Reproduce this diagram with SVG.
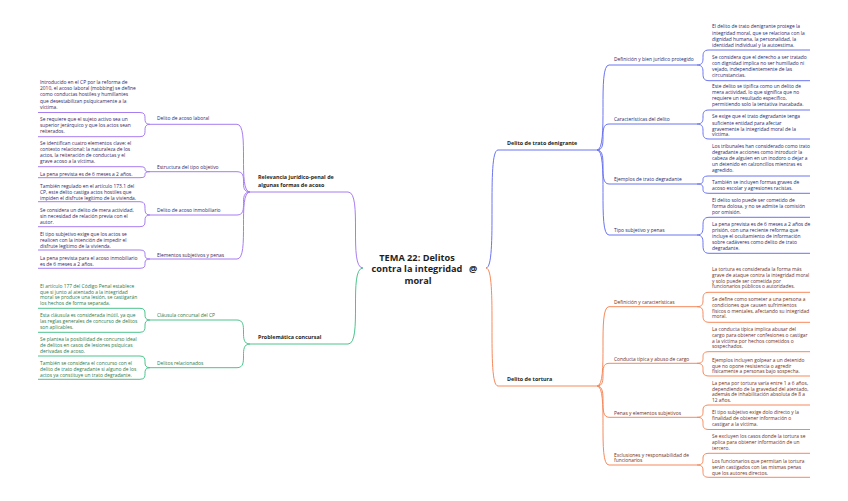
<svg xmlns="http://www.w3.org/2000/svg" width="848" height="501" viewBox="0 0 848 501">
<style>
text{font-family:"Open Sans","Noto Sans",sans-serif}
.lf{font-size:4.9px}
.sb{font-size:4.9px}
.mn{font-size:5.4px;font-weight:700;fill:#1f1f1f}
.tt{font-size:9.2px;font-weight:700;fill:#1f1f1f}
.tp{fill:#35275e}.tg{fill:#2c7a4b}.tb{fill:#262a6e}.to{fill:#6e2f1c}
.c{fill:none;stroke-width:1}
.cp{stroke:#a77df2}.cg{stroke:#4cc48c}.cb{stroke:#6b74f2}.co{stroke:#f7895c}
</style>
<rect width="848" height="501" fill="#ffffff"/>
<g id="connectors">
<g class="c cp">
<path d="M250,192 H348 C363,192 348,268 363,268"/>
<path d="M150,124.3 H237 C250,124.3 237,192 250,192"/>
<path d="M150,171.7 H237 C250,171.7 237,192 250,192"/>
<path d="M150,215 H237 C250,215 237,192 250,192"/>
<path d="M150,259 H237 C250,259 237,192 250,192"/>
<path d="M38,112.5 H140 C150,112.5 140,124.3 150,124.3"/>
<path d="M38,136.7 H140 C150,136.7 140,124.3 150,124.3"/>
<path d="M38,166.7 H140 C150,166.7 140,171.7 150,171.7"/>
<path d="M38,177.7 H140 C150,177.7 140,171.7 150,171.7"/>
<path d="M38,201.7 H140 C150,201.7 140,215 150,215"/>
<path d="M38,226.7 H140 C150,226.7 140,215 150,215"/>
<path d="M38,250 H140 C150,250 140,259 150,259"/>
<path d="M38,268.3 H140 C150,268.3 140,259 150,259"/>
</g>
<g class="c cg">
<path d="M250,344 H348 C363,344 348,268 363,268"/>
<path d="M150,320 H237 C250,320 237,344 250,344"/>
<path d="M150,367.7 H237 C250,367.7 237,344 250,344"/>
<path d="M38,308.3 H140 C150,308.3 140,320 150,320"/>
<path d="M38,332.3 H140 C150,332.3 140,320 150,320"/>
<path d="M38,356 H140 C150,356 140,367.7 150,367.7"/>
<path d="M38,379.3 H140 C150,379.3 140,367.7 150,367.7"/>
</g>
<g class="c cb">
<path d="M486,268 C498,268 486,150 498,150 H597"/>
<path d="M597,150 C609,150 597,65 609,65 H697"/>
<path d="M597,150 C609,150 597,124 609,124 H697"/>
<path d="M597,150 C609,150 597,184 609,184 H697"/>
<path d="M597,150 C609,150 597,235 609,235 H697"/>
<path d="M697,65 C709,65 697,50 709,50 H810"/>
<path d="M697,65 C709,65 697,80.7 709,80.7 H810"/>
<path d="M697,124 C709,124 697,110 709,110 H810"/>
<path d="M697,124 C709,124 697,139 709,139 H810"/>
<path d="M697,184 C709,184 697,176 709,176 H810"/>
<path d="M697,184 C709,184 697,193.3 709,193.3 H810"/>
<path d="M697,235 C709,235 697,217.3 709,217.3 H810"/>
<path d="M697,235 C709,235 697,253.3 709,253.3 H810"/>
</g>
<g class="c co">
<path d="M486,268 C498,268 486,386 498,386 H597"/>
<path d="M597,386 C609,386 597,306.7 609,306.7 H697"/>
<path d="M597,386 C609,386 597,363.3 609,363.3 H697"/>
<path d="M597,386 C609,386 597,417.3 609,417.3 H697"/>
<path d="M597,386 C609,386 597,465 609,465 H697"/>
<path d="M697,306.7 C709,306.7 697,292.3 709,292.3 H810"/>
<path d="M697,306.7 C709,306.7 697,322.3 709,322.3 H810"/>
<path d="M697,363.3 C709,363.3 697,351.7 709,351.7 H810"/>
<path d="M697,363.3 C709,363.3 697,376 709,376 H810"/>
<path d="M697,417.3 C709,417.3 697,405 709,405 H810"/>
<path d="M697,417.3 C709,417.3 697,429.5 709,429.5 H810"/>
<path d="M697,465 C709,465 697,453.3 709,453.3 H810"/>
<path d="M697,465 C709,465 697,477.3 709,477.3 H810"/>
</g>
</g>

<g id="center">
<text class="tt" text-anchor="middle"><tspan x="417" y="260.5">TEMA 22: Delitos</tspan><tspan x="417" y="272">contra la integridad</tspan><tspan x="418" y="283.5">moral</tspan></text>
<text class="tt" x="473" y="272" text-anchor="middle">@</text>
</g>

<g id="relevancia"><text class="mn" x="258"><tspan x="258" y="179.3">Relevancia jurídico-penal de</tspan><tspan x="258" y="187">algunas formas de acoso</tspan></text></g>
<g id="acoso-laboral"><text class="sb tp" x="157" y="120">Delito de acoso laboral</text></g>
<g id="leaf-l1"><text class="lf tp"><tspan x="40" y="84.2">Introducido en el CP por la reforma de</tspan><tspan x="40" y="90.3">2010, el acoso laboral (mobbing) se define</tspan><tspan x="40" y="96.4">como conductas hostiles y humillantes</tspan><tspan x="40" y="102.5">que desestabilizan psíquicamente a la</tspan><tspan x="40" y="108.6">víctima.</tspan></text></g>
<g id="leaf-l2"><text class="lf tp"><tspan x="40" y="121">Se requiere que el sujeto activo sea un</tspan><tspan x="40" y="127.1">superior jerárquico y que los actos sean</tspan><tspan x="40" y="133.2">reiterados.</tspan></text></g>
<g id="estructura"><text class="sb tp" x="157" y="169">Estructura del tipo objetivo</text></g>
<g id="leaf-l3"><text class="lf tp"><tspan x="40" y="145">Se identifican cuatro elementos clave: el</tspan><tspan x="40" y="151">contexto relacional; la naturaleza de los</tspan><tspan x="40" y="157">actos, la reiteración de conductas y el</tspan><tspan x="40" y="163">grave acoso a la víctima.</tspan></text></g>
<g id="leaf-l4"><text class="lf tp" x="40" y="175.8">La pena prevista es de 6 meses a 2 años.</text></g>
<g id="acoso-inmobiliario"><text class="sb tp" x="157" y="211.8">Delito de acoso inmobiliario</text></g>
<g id="leaf-l5"><text class="lf tp"><tspan x="40" y="187.8">También regulado en el artículo 173.1 del</tspan><tspan x="40" y="193.8">CP, este delito castiga actos hostiles que</tspan><tspan x="40" y="199.8">impiden el disfrute legítimo de la vivienda.</tspan></text></g>
<g id="leaf-l6"><text class="lf tp"><tspan x="40" y="211.8">Se considera un delito de mera actividad,</tspan><tspan x="40" y="217.8">sin necesidad de relación previa con el</tspan><tspan x="40" y="224">autor.</tspan></text></g>
<g id="elementos"><text class="sb tp" x="157" y="256.8">Elementos subjetivos y penas</text></g>
<g id="leaf-l7"><text class="lf tp"><tspan x="40" y="235.8">El tipo subjetivo exige que los actos se</tspan><tspan x="40" y="241.8">realicen con la intención de impedir el</tspan><tspan x="40" y="247.6">disfrute legítimo de la vivienda.</tspan></text></g>
<g id="leaf-l8"><text class="lf tp"><tspan x="40" y="260">La pena prevista para el acoso inmobiliario</tspan><tspan x="40" y="265.8">es de 6 meses a 2 años.</tspan></text></g>

<g id="problematica"><text class="mn" x="258" y="339.2">Problemática concursal</text></g>
<g id="clausula"><text class="sb tg" x="157" y="316.8">Cláusula concursal del CP</text></g>
<g id="leaf-g1"><text class="lf tg"><tspan x="40" y="287.8">El artículo 177 del Código Penal establece</tspan><tspan x="40" y="293.5">que si junto al atentado a la integridad</tspan><tspan x="40" y="299.2">moral se produce una lesión, se castigarán</tspan><tspan x="40" y="305">los hechos de forma separada.</tspan></text></g>
<g id="leaf-g2"><text class="lf tg"><tspan x="40" y="316.8">Esta cláusula es considerada inútil, ya que</tspan><tspan x="40" y="323">las reglas generales de concurso de delitos</tspan><tspan x="40" y="329">son aplicables.</tspan></text></g>
<g id="relacionados"><text class="sb tg" x="157" y="365">Delitos relacionados</text></g>
<g id="leaf-g3"><text class="lf tg"><tspan x="40" y="341">Se plantea la posibilidad de concurso ideal</tspan><tspan x="40" y="347">de delitos en casos de lesiones psíquicas</tspan><tspan x="40" y="352.8">derivadas de acoso.</tspan></text></g>
<g id="leaf-g4"><text class="lf tg"><tspan x="40" y="365">También se considera el concurso con el</tspan><tspan x="40" y="371">delito de trato degradante si alguno de los</tspan><tspan x="40" y="376.8">actos ya constituye un trato degradante.</tspan></text></g>

<g id="trato-denigrante"><text class="mn" x="507" y="144.6">Delito de trato denigrante</text></g>
<g id="definicion-bien"><text class="sb tb" x="614" y="61">Definición y bien jurídico protegido</text></g>
<g id="leaf-b1"><text class="lf tb"><tspan x="712" y="28.4">El delito de trato denigrante protege la</tspan><tspan x="712" y="34.5">integridad moral, que se relaciona con la</tspan><tspan x="712" y="40.6">dignidad humana, la personalidad, la</tspan><tspan x="712" y="46.7">identidad individual y la autoestima.</tspan></text></g>
<g id="leaf-b2"><text class="lf tb"><tspan x="712" y="59.4">Se considera que el derecho a ser tratado</tspan><tspan x="712" y="65.2">con dignidad implica no ser humillado ni</tspan><tspan x="712" y="71">vejado, independientemente de las</tspan><tspan x="712" y="76.8">circunstancias.</tspan></text></g>
<g id="caracteristicas"><text class="sb tb" x="614" y="121">Características del delito</text></g>
<g id="leaf-b3"><text class="lf tb"><tspan x="712" y="88.4">Este delito se tipifica como un delito de</tspan><tspan x="712" y="94.2">mera actividad, lo que significa que no</tspan><tspan x="712" y="100">requiere un resultado específico,</tspan><tspan x="712" y="105.8">permitiendo solo la tentativa inacabada.</tspan></text></g>
<g id="leaf-b4"><text class="lf tb"><tspan x="712" y="118.4">Se exige que el trato degradante tenga</tspan><tspan x="712" y="124.6">suficiente entidad para afectar</tspan><tspan x="712" y="130.6">gravemente la integridad moral de la</tspan><tspan x="712" y="136.2">víctima.</tspan></text></g>
<g id="ejemplos"><text class="sb tb" x="614" y="180.8">Ejemplos de trato degradante</text></g>
<g id="leaf-b5"><text class="lf tb"><tspan x="712" y="148.4">Los tribunales han considerado como trato</tspan><tspan x="712" y="154.2">degradante acciones como introducir la</tspan><tspan x="712" y="160">cabeza de alguien en un inodoro o dejar a</tspan><tspan x="712" y="166">un detenido en calzoncillos mientras es</tspan><tspan x="712" y="171.8">agredido.</tspan></text></g>
<g id="leaf-b6"><text class="lf tb"><tspan x="712" y="184">También se incluyen formas graves de</tspan><tspan x="712" y="190">acoso escolar y agresiones racistas.</tspan></text></g>
<g id="tipo-subjetivo"><text class="sb tb" x="614" y="231.8">Tipo subjetivo y penas</text></g>
<g id="leaf-b7"><text class="lf tb"><tspan x="712" y="202.4">El delito solo puede ser cometido de</tspan><tspan x="712" y="208.4">forma dolosa, y no se admite la comisión</tspan><tspan x="712" y="214.2">por omisión.</tspan></text></g>
<g id="leaf-b8"><text class="lf tb"><tspan x="712" y="226.4">La pena prevista es de 6 meses a 2 años de</tspan><tspan x="712" y="232.4">prisión, con una reciente reforma que</tspan><tspan x="712" y="238.4">incluye el ocultamiento de información</tspan><tspan x="712" y="244.2">sobre cadáveres como delito de trato</tspan><tspan x="712" y="250">degradante.</tspan></text></g>

<g id="tortura"><text class="mn" x="507" y="381">Delito de tortura</text></g>
<g id="definicion-caract"><text class="sb to" x="614" y="304">Definición y características</text></g>
<g id="leaf-o1"><text class="lf to"><tspan x="712" y="271">La tortura es considerada la forma más</tspan><tspan x="712" y="276.8">grave de ataque contra la integridad moral</tspan><tspan x="712" y="282.6">y solo puede ser cometida por</tspan><tspan x="712" y="288.4">funcionarios públicos o autoridades.</tspan></text></g>
<g id="leaf-o2"><text class="lf to"><tspan x="712" y="301">Se define como someter a una persona a</tspan><tspan x="712" y="306.8">condiciones que causen sufrimientos</tspan><tspan x="712" y="312.8">físicos o mentales, afectando su integridad</tspan><tspan x="712" y="318.4">moral.</tspan></text></g>
<g id="conducta"><text class="sb to" x="614" y="360.8">Conducta típica y abuso de cargo</text></g>
<g id="leaf-o3"><text class="lf to"><tspan x="712" y="331">La conducta típica implica abusar del</tspan><tspan x="712" y="336.8">cargo para obtener confesiones o castigar</tspan><tspan x="712" y="342.6">a la víctima por hechos cometidos o</tspan><tspan x="712" y="348.4">sospechados.</tspan></text></g>
<g id="leaf-o4"><text class="lf to"><tspan x="712" y="361.8">Ejemplos incluyen golpear a un detenido</tspan><tspan x="712" y="367.5">que no opone resistencia o agredir</tspan><tspan x="712" y="373">físicamente a personas bajo sospecha.</tspan></text></g>
<g id="penas"><text class="sb to" x="614" y="415">Penas y elementos subjetivos</text></g>
<g id="leaf-o5"><text class="lf to"><tspan x="712" y="385">La pena por tortura varía entre 1 a 6 años,</tspan><tspan x="712" y="390.8">dependiendo de la gravedad del atentado,</tspan><tspan x="712" y="396.4">además de inhabilitación absoluta de 8 a</tspan><tspan x="712" y="402">12 años.</tspan></text></g>
<g id="leaf-o6"><text class="lf to"><tspan x="712" y="414.4">El tipo subjetivo exige dolo directo y la</tspan><tspan x="712" y="420">finalidad de obtener información o</tspan><tspan x="712" y="425.8">castigar a la víctima.</tspan></text></g>
<g id="exclusiones"><text class="sb to"><tspan x="614" y="456.8">Exclusiones y responsabilidad de</tspan><tspan x="614" y="462.4">funcionarios</tspan></text></g>
<g id="leaf-o7"><text class="lf to"><tspan x="712" y="438.4">Se excluyen los casos donde la tortura se</tspan><tspan x="712" y="444.4">aplica para obtener información de un</tspan><tspan x="712" y="450">tercero.</tspan></text></g>
<g id="leaf-o8"><text class="lf to"><tspan x="712" y="463.4">Los funcionarios que permitan la tortura</tspan><tspan x="712" y="469">serán castigados con las mismas penas</tspan><tspan x="712" y="475">que los autores directos.</tspan></text></g>
</svg>
